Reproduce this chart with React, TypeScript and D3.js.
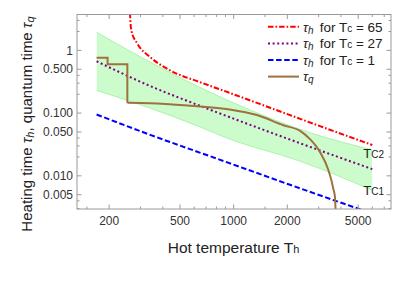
import React from 'react';
import * as d3 from 'd3';

type Pt = [number, number];

// tau_h curves, [T_h, time]
const tauHotTc65: Pt[] = [[260, 6], [266, 2.1], [287, 1.3], [340, 0.78], [440, 0.48], [650, 0.31], [950, 0.21], [1400, 0.14], [2070, 0.093], [3050, 0.062], [6000, 0.031]];
const tauHotTc27: Pt[] = [[170, 0.67], [340, 0.27], [650, 0.13], [1400, 0.057], [3050, 0.0254], [6000, 0.0128]];
const tauHotTc1: Pt[] = [[170, 0.095], [340, 0.045], [840, 0.018], [2070, 0.0072], [6000, 0.0025]];

// shaded band: upper edge Tc2, lower edge Tc1
const bandTc2: Pt[] = [[170, 1.95], [340, 0.65], [950, 0.155], [2860, 0.046], [6000, 0.026]];
const bandTc1: Pt[] = [[170, 0.23], [340, 0.12], [650, 0.06], [950, 0.0385], [2350, 0.0172], [6000, 0.0059]];

// tau_q: staircase at low T, then a smooth drop
const tauQSteps: Pt[] = [[170, 0.76], [196, 0.76], [196, 0.6], [253, 0.6], [253, 0.146]];
const tauQCurve: Pt[] = [[253, 0.146], [340, 0.144], [570, 0.131], [950, 0.1145], [1350, 0.093], [1900, 0.064], [2360, 0.052], [2680, 0.0385], [3050, 0.024], [3400, 0.0124], [3550, 0.0081], [3620, 0.0063], [3700, 0.0047], [3750, 0.002]];

// legend
const legendTc = ['65', '27', '1'];
const legendColors = ['#ff0000', '#800080', '#0000ff', '#a0703f'];
const legendDash = ['5.5,2,1.6,2', '2,2.6', '5.5,2.6', null];

// axes
const xMajor = [200, 500, 1000, 2000, 5000];
const xMinor = [150, 300, 400, 600, 700, 800, 900, 1500, 3000, 4000, 6000, 7000];
const yMajor = [0.005, 0.01, 0.05, 0.1, 0.5, 1];
const yMajorLabels = ['0.005', '0.010', '0.050', '0.100', '0.500', '1'];
const yMinor = [0.003, 0.004, 0.02, 0.03, 0.04, 0.2, 0.3, 0.4, 2, 3];

const W = 399;
const H = 288;
const L = 77, R = 391, T = 14.5, B = 209;
const FONT = '"Liberation Sans", Arial, sans-serif';

function HeatingTimeChart() {
    const ref = React.useRef<SVGSVGElement>(null);

    React.useEffect(() => {
        const svg = d3.select(ref.current);
        svg.selectAll('*').remove();

        const x = d3.scaleLog().domain([132, 7640]).range([L, R]);
        const y = d3.scaleLog().domain([0.00296, 3.73]).range([B, T]);

        const line = d3.line<Pt>().x(d => x(d[0])).y(d => y(d[1])).curve(d3.curveMonotoneX);
        const stepLine = d3.line<Pt>().x(d => x(d[0])).y(d => y(d[1]));

        const defs = svg.append('defs');
        defs.append('clipPath').attr('id', 'plotClip')
            .append('rect').attr('x', L).attr('y', T).attr('width', R - L).attr('height', B - T);
        defs.append('clipPath').attr('id', 'bandClip')
            .append('path')
            .attr('d', d3.area<Pt>().x(d => x(d[0])).y0(T - 50).y1(d => y(d[1])).curve(d3.curveMonotoneX)(bandTc1)!);

        svg.append('rect').attr('width', W).attr('height', H).attr('fill', '#fff');

        const plot = svg.append('g').attr('clip-path', 'url(#plotClip)');

        // band
        plot.append('path')
            .attr('clip-path', 'url(#bandClip)')
            .attr('d', d3.area<Pt>().x(d => x(d[0])).y0(B + 50).y1(d => y(d[1])).curve(d3.curveMonotoneX)(bandTc2)!)
            .attr('fill', '#ccfbcc');
        [bandTc2, bandTc1].forEach(edge => {
            plot.append('path').attr('d', line(edge)!)
                .attr('fill', 'none').attr('stroke', '#9ef09e').attr('stroke-width', 0.8);
        });

        const curves: Pt[][] = [tauHotTc65, tauHotTc27, tauHotTc1];
        curves.forEach((c, i) => {
            plot.append('path').attr('d', line(c)!)
                .attr('fill', 'none')
                .attr('stroke', legendColors[i])
                .attr('stroke-width', 2)
                .attr('stroke-dasharray', legendDash[i]);
        });

        // tau_q
        plot.append('path').attr('d', stepLine(tauQSteps)!)
            .attr('fill', 'none').attr('stroke', legendColors[3]).attr('stroke-width', 2);
        plot.append('path').attr('d', line(tauQCurve)!)
            .attr('fill', 'none').attr('stroke', legendColors[3]).attr('stroke-width', 2);

        // band labels
        const bandLabel = (pt: Pt, dy: number, sub: string) => {
            const t = svg.append('text')
                .attr('x', x(pt[0]) - 9).attr('y', y(pt[1]) + dy)
                .attr('font-family', FONT).attr('font-size', 13).attr('fill', '#222');
            t.append('tspan').text('T');
            t.append('tspan').attr('font-size', 10).text(sub);
        };
        bandLabel(bandTc2[bandTc2.length - 1], 8, 'C2');
        bandLabel(bandTc1[bandTc1.length - 1], 4.5, 'C1');

        // frame + ticks
        const frame = svg.append('g').attr('stroke', '#9a9a9a').attr('stroke-width', 1);
        frame.append('rect').attr('x', L).attr('y', T).attr('width', R - L).attr('height', B - T).attr('fill', 'none');
        const xTick = (v: number, len: number) => {
            frame.append('line').attr('x1', x(v)).attr('x2', x(v)).attr('y1', B).attr('y2', B - len);
            frame.append('line').attr('x1', x(v)).attr('x2', x(v)).attr('y1', T).attr('y2', T + len);
        };
        const yTick = (v: number, len: number) => {
            frame.append('line').attr('y1', y(v)).attr('y2', y(v)).attr('x1', L).attr('x2', L + len);
            frame.append('line').attr('y1', y(v)).attr('y2', y(v)).attr('x1', R).attr('x2', R - len);
        };
        xMajor.forEach(v => xTick(v, 4.5));
        xMinor.forEach(v => xTick(v, 2.5));
        yMajor.forEach(v => yTick(v, 4.5));
        yMinor.forEach(v => yTick(v, 2.5));

        const labels = svg.append('g').attr('font-family', FONT).attr('font-size', 12).attr('fill', '#333');
        xMajor.forEach(v => {
            labels.append('text').attr('x', x(v)).attr('y', 225).attr('text-anchor', 'middle').text(String(v));
        });
        yMajor.forEach((v, i) => {
            labels.append('text').attr('x', 73).attr('y', y(v)).attr('dy', '0.35em').attr('text-anchor', 'end').text(yMajorLabels[i]);
        });

        // axis titles
        const xt = svg.append('text').attr('x', 233.5).attr('y', 252.5).attr('text-anchor', 'middle')
            .attr('font-family', FONT).attr('font-size', 15.5).attr('fill', '#222');
        xt.append('tspan').text('Hot temperature T');
        xt.append('tspan').attr('font-size', 11).text('h');

        const yt = svg.append('text').attr('transform', 'translate(32,124) rotate(-90)').attr('text-anchor', 'middle')
            .attr('font-family', FONT).attr('font-size', 15).attr('fill', '#222');
        yt.append('tspan').text('Heating time ');
        yt.append('tspan').attr('font-style', 'italic').text('τ');
        yt.append('tspan').attr('font-style', 'italic').attr('font-size', 11).attr('dy', 2).text('h');
        yt.append('tspan').attr('dy', -2).text(', quantum time ');
        yt.append('tspan').attr('font-style', 'italic').text('τ');
        yt.append('tspan').attr('font-style', 'italic').attr('font-size', 11).attr('dy', 2).text('q');

        // legend
        const lg = svg.append('g').attr('font-family', FONT).attr('font-size', 13.5).attr('fill', '#222');
        legendColors.forEach((c, i) => {
            const cy = 26.8 + i * 16.6;
            lg.append('line').attr('x1', 268).attr('x2', 299).attr('y1', cy).attr('y2', cy)
                .attr('stroke', c).attr('stroke-width', 2).attr('stroke-dasharray', legendDash[i]);
            const t = lg.append('text').attr('x', 303).attr('y', cy).attr('dy', '0.35em');
            t.append('tspan').attr('font-style', 'italic').text('τ');
            if (i < 3) {
                t.append('tspan').attr('font-style', 'italic').attr('font-size', 10).attr('dy', 2).text('h');
                t.append('tspan').attr('dy', -2).attr('dx', 6).text('for T');
                t.append('tspan').attr('font-size', 10).text('c');
                t.append('tspan').text(' = ' + legendTc[i]);
            } else {
                t.append('tspan').attr('font-style', 'italic').attr('font-size', 10).attr('dy', 2).text('q');
            }
        });
    }, []);

    return (
        <svg ref={ref} width={W} height={H} style={{ position: 'absolute', left: 0, top: 0 }} />
    );
}

export default function App() {
    return <HeatingTimeChart />;
}
